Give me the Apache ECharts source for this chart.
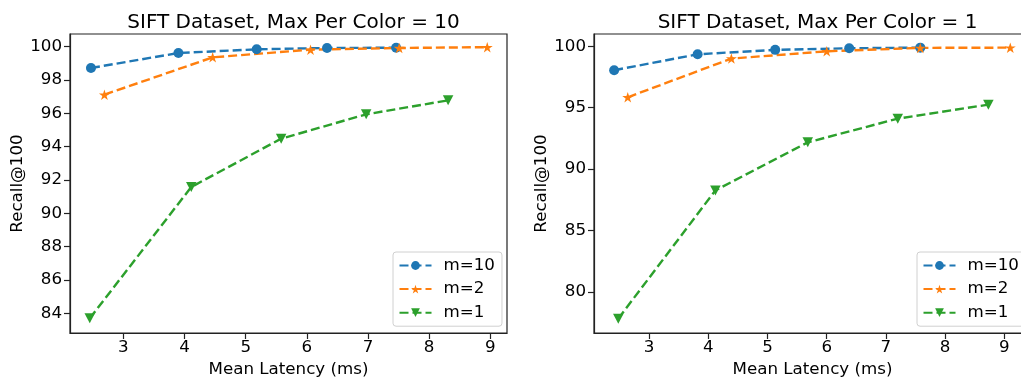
<!DOCTYPE html>
<html>
<head>
<meta charset="utf-8">
<script src="https://cdn.jsdelivr.net/npm/echarts@6/dist/echarts.min.js"></script>
<style>
html,body{margin:0;padding:0;background:#fff;}
#chart{width:1021px;height:377px;}
</style>
</head>
<body>
<div id="chart"></div>
<script>
// ---- Data ----
const titles = ['SIFT Dataset, Max Per Color = 10', 'SIFT Dataset, Max Per Color = 1'];
const seriesNames = ['m=10', 'm=2', 'm=1'];

// Left panel (Max Per Color = 10)
const leftM10X = [2.47, 3.90, 5.18, 6.33, 7.46];
const leftM10Y = [98.72, 99.62, 99.84, 99.92, 99.94];
const leftM2X  = [2.69, 4.46, 6.06, 7.51, 8.95];
const leftM2Y  = [97.12, 99.36, 99.82, 99.92, 99.97];
const leftM1X  = [2.45, 4.11, 5.58, 6.97, 8.31];
const leftM1Y  = [83.70, 91.58, 94.48, 95.94, 96.78];

// Right panel (Max Per Color = 1)
const rightM10X = [2.41, 3.82, 5.13, 6.38, 7.58];
const rightM10Y = [98.05, 99.35, 99.71, 99.84, 99.89];
const rightM2X  = [2.64, 4.39, 6.00, 7.58, 9.10];
const rightM2Y  = [95.85, 99.00, 99.59, 99.87, 99.89];
const rightM1X  = [2.48, 4.12, 5.68, 7.20, 8.73];
const rightM1Y  = [77.83, 88.27, 92.18, 94.11, 95.25];

// Tick labels
const xTicks = [3, 4, 5, 6, 7, 8, 9];
const leftYTicks = [84, 86, 88, 90, 92, 94, 96, 98, 100];
const rightYTicks = [80, 85, 90, 95, 100];

// Axis ranges
const leftXRange = [2.127, 9.273];
const leftYRange = [82.82, 100.76];
const rightXRange = [2.07, 9.45];
const rightYRange = [76.66, 101.0];

// ---- Styling ----
const colors = ['#1f77b4', '#ff7f0e', '#2ca02c'];
const starPath = 'path://M0,-1 L0.225,-0.309 L0.951,-0.309 L0.363,0.118 L0.588,0.809 L0,0.382 L-0.588,0.809 L-0.363,0.118 L-0.951,-0.309 L-0.225,-0.309 Z';
const symbols = [
  {symbol: 'circle', symbolSize: 10, symbolRotate: 0},
  {symbol: starPath, symbolSize: [11, 10.5], symbolRotate: 0},
  {symbol: 'triangle', symbolSize: [10.5, 10], symbolRotate: 180}
];
const FONT = 'DejaVu Sans';
const FS = 16.7;
const zip = (xs, ys) => xs.map((x, i) => [x, ys[i]]);

const panels = [
  {xs: [leftM10X, leftM2X, leftM1X], ys: [leftM10Y, leftM2Y, leftM1Y]},
  {xs: [rightM10X, rightM2X, rightM1X], ys: [rightM10Y, rightM2Y, rightM1Y]}
];

const grids = [
  {left: 70, top: 34, width: 437, height: 299},
  {left: 594, top: 34, width: 437, height: 299}
];

function makeX(idx, range) {
  return {
    type: 'value', gridIndex: idx, min: range[0], max: range[1],
    name: 'Mean Latency (ms)', nameLocation: 'middle', nameGap: 25,
    nameTextStyle: {fontFamily: FONT, fontSize: FS, color: '#000'},
    axisLine: {show: true, onZero: false, lineStyle: {color: '#222', width: 1.2}},
    axisTick: {show: true, length: 6, customValues: xTicks, lineStyle: {color: '#222', width: 1.2}},
    axisLabel: {customValues: xTicks, margin: 6, fontFamily: FONT, fontSize: FS, color: '#000'},
    splitLine: {show: false}
  };
}
function makeY(idx, range, ticks) {
  return {
    type: 'value', gridIndex: idx, min: range[0], max: range[1],
    name: 'Recall@100', nameLocation: 'middle', nameGap: 43,
    nameTextStyle: {fontFamily: FONT, fontSize: FS, color: '#000'},
    axisLine: {show: true, onZero: false, lineStyle: {color: '#222', width: 1.2}},
    axisTick: {show: true, length: 6, customValues: ticks, lineStyle: {color: '#222', width: 1.2}},
    axisLabel: {customValues: ticks, margin: 8, fontFamily: FONT, fontSize: FS, color: '#000'},
    splitLine: {show: false}
  };
}

const series = [];
panels.forEach((p, pi) => {
  seriesNames.forEach((name, si) => {
    series.push({
      type: 'line', name: name, xAxisIndex: pi, yAxisIndex: pi,
      data: zip(p.xs[si], p.ys[si]),
      symbol: symbols[si].symbol, symbolSize: symbols[si].symbolSize, symbolRotate: symbols[si].symbolRotate,
      showAllSymbol: true,
      lineStyle: {color: colors[si], width: 2.4, type: [9, 4]},
      itemStyle: {color: colors[si], borderWidth: 0},
      emphasis: {disabled: true},
      animation: false,
      clip: false
    });
  });
});

function makeLegend(left) {
  return {
    orient: 'vertical', left: left, top: 252,
    data: seriesNames,
    itemWidth: 32, itemHeight: 11, itemGap: 6.6,
    padding: [5, 7, 5, 5.5],
    borderColor: '#d0d0d0', borderWidth: 1, borderRadius: 3,
    backgroundColor: 'rgba(255,255,255,0.8)',
    textStyle: {fontFamily: FONT, fontSize: FS, color: '#000', padding: [0, 0, 0, 7]},
    selectedMode: false
  };
}

const option = {
  animation: false,
  backgroundColor: '#fff',
  title: [
    {text: titles[0], left: 288.5, top: 8, textAlign: 'center',
     textStyle: {fontFamily: FONT, fontSize: 20, fontWeight: 'normal', color: '#000'}},
    {text: titles[1], left: 812.5, top: 8, textAlign: 'center',
     textStyle: {fontFamily: FONT, fontSize: 20, fontWeight: 'normal', color: '#000'}}
  ],
  grid: grids.map(g => Object.assign({show: true, containLabel: false, outerBoundsMode: 'none',
    borderColor: '#222', borderWidth: 1.2, backgroundColor: 'transparent'}, g)),
  xAxis: [makeX(0, leftXRange), makeX(1, rightXRange)],
  yAxis: [makeY(0, leftYRange, leftYTicks), makeY(1, rightYRange, rightYTicks)],
  legend: [makeLegend(393), makeLegend(917)],
  series: series
};

const chart = echarts.init(document.getElementById('chart'), null, {renderer: 'canvas'});
chart.setOption(option);
</script>
</body>
</html>
